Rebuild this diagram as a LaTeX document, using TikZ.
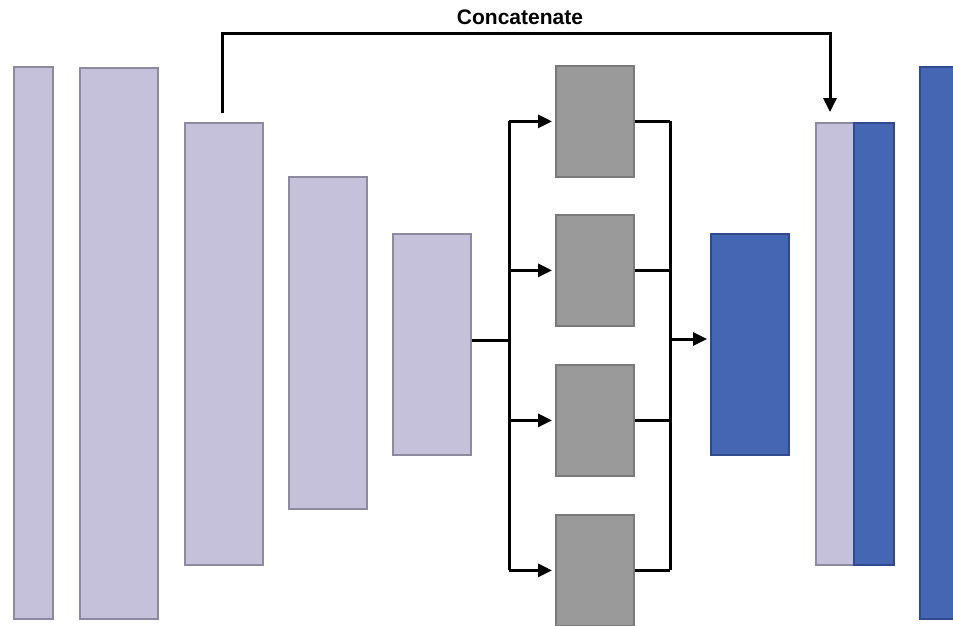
\documentclass[tikz,border=0pt]{standalone}
\usepackage{fontspec}
\setmainfont{Liberation Sans}
\usetikzlibrary{arrows.meta}
\definecolor{lavfill}{HTML}{C5C1DB}
\definecolor{lavdraw}{HTML}{8D899F}
\definecolor{grayfill}{HTML}{9A9A9A}
\definecolor{graydraw}{HTML}{7A7A7A}
\definecolor{bluefill}{HTML}{4466B3}
\definecolor{bluedraw}{HTML}{2F4B8C}
\tikzset{
  block/.style={draw, line width=1.8pt, inner sep=0pt, anchor=north west},
  lav/.style={block, fill=lavfill, draw=lavdraw},
  grayblock/.style={block, fill=grayfill, draw=graydraw},
  blue/.style={block, fill=bluefill, draw=bluedraw},
  wire/.style={line width=3pt, line cap=butt, line join=miter},
  arrow/.style={wire, -{Triangle[length=14pt,width=13pt]}},
}
\begin{document}
\begin{tikzpicture}[x=1pt,y=-1pt]
\useasboundingbox (0,0) rectangle (953,626);
% encoder feature maps
\node[lav, minimum width=39pt, minimum height=552pt] (e1) at (13,66) {};
\node[lav, minimum width=78pt, minimum height=551pt] (e2) at (79,67) {};
\node[lav, minimum width=78pt, minimum height=442pt] (e3) at (184,122) {};
\node[lav, minimum width=78pt, minimum height=332pt] (e4) at (288,176) {};
\node[lav, minimum width=78pt, minimum height=221pt] (e5) at (392,233) {};
% parallel branches
\node[grayblock, minimum width=78pt, minimum height=111pt] (g1) at (555,65) {};
\node[grayblock, minimum width=78pt, minimum height=111pt] (g2) at (555,214) {};
\node[grayblock, minimum width=78pt, minimum height=111pt] (g3) at (555,364) {};
\node[grayblock, minimum width=78pt, minimum height=111pt] (g4) at (555,514) {};
% merged output
\node[blue, minimum width=78pt, minimum height=221pt] (m) at (710,233) {};
% decoder
\node[lav, minimum width=38pt, minimum height=442pt] (d1) at (815,122) {};
\node[blue, minimum width=40pt, minimum height=442pt] (d2) at (853,122) {};
\node[blue, minimum width=48pt, minimum height=552pt] (d3) at (919,66) {};
% split and merge wiring
\coordinate (split) at (509,340);
\coordinate (join) at (670,339);
\draw[wire] (e5.east |- split) -- (split);
\draw[wire] (split |- g1.west) -- (split |- g4.west);
\foreach \g in {g1,g2,g3,g4}{
  \draw[arrow] (split |- \g.west) -- ([xshift=-3pt]\g.west);
  \draw[wire] (\g.east) -- (join |- \g.east);
}
\draw[wire] (join |- g1.east) -- (join |- g4.east);
\draw[arrow] (join) -- ([xshift=-3pt]m.west |- join);
% skip connection
\coordinate (skipL) at (222.5,34);
\coordinate (skipR) at (830,34);
\draw[arrow] ([yshift=9pt]e3.north -| skipL) -- (skipL) -- (skipR) -- ([yshift=10pt]d1.north -| skipR);
\node[font=\fontsize{21}{25}\selectfont\bfseries] (lbl) at (520,17) {Concatenate};
\end{tikzpicture}
\end{document}
